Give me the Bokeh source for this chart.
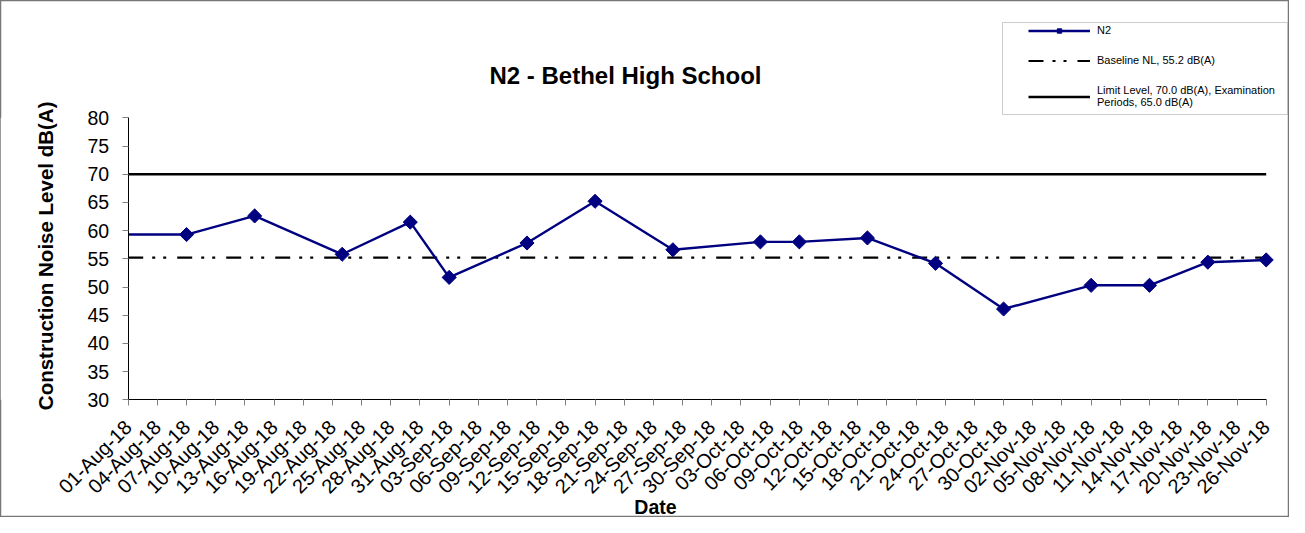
import math
import pandas as pd
from bokeh.plotting import figure
from bokeh.models import (Range1d, FixedTicker, DatetimeTickFormatter, Legend,
                          LegendItem, Label, BoxAnnotation)
from bokeh.embed import file_html
from bokeh.resources import INLINE

# ---------------- data ----------------
dates = ["2018-07-31", "2018-08-07", "2018-08-14", "2018-08-23", "2018-08-30",
         "2018-09-03", "2018-09-11", "2018-09-18", "2018-09-26", "2018-10-05",
         "2018-10-09", "2018-10-16", "2018-10-23", "2018-10-30", "2018-11-08",
         "2018-11-14", "2018-11-20", "2018-11-26"]
n2_values = [59.3, 59.3, 62.6, 55.8, 61.5, 51.7, 57.8, 65.2, 56.6, 58.0,
             58.0, 58.7, 54.2, 46.1, 50.3, 50.3, 54.4, 54.8]
baseline_level = 55.2
limit_level = 70.0
tick_labels = ["01-Aug-18", "04-Aug-18", "07-Aug-18", "10-Aug-18", "13-Aug-18",
               "16-Aug-18", "19-Aug-18", "22-Aug-18", "25-Aug-18", "28-Aug-18",
               "31-Aug-18", "03-Sep-18", "06-Sep-18", "09-Sep-18", "12-Sep-18",
               "15-Sep-18", "18-Sep-18", "21-Sep-18", "24-Sep-18", "27-Sep-18",
               "30-Sep-18", "03-Oct-18", "06-Oct-18", "09-Oct-18", "12-Oct-18",
               "15-Oct-18", "18-Oct-18", "21-Oct-18", "24-Oct-18", "27-Oct-18",
               "30-Oct-18", "02-Nov-18", "05-Nov-18", "08-Nov-18", "11-Nov-18",
               "14-Nov-18", "17-Nov-18", "20-Nov-18", "23-Nov-18", "26-Nov-18"]
y_ticks = [30, 35, 40, 45, 50, 55, 60, 65, 70, 75, 80]
title_text = "N2 - Bethel High School"
x_title = "Date"
y_title = "Construction Noise Level  dB(A)"
legend_labels = ["N2", "Baseline NL, 55.2 dB(A)",
                 "Limit Level, 70.0 dB(A), Examination\nPeriods, 65.0 dB(A)"]

# ---------------- layout (pixels) ----------------
W, H = 1289, 517
X_LEFT_PX, X_RIGHT_PX = 127.7, 1265.7     # pixel of first / last tick
Y_LOW_PX, Y_HIGH_PX = 399.3, 117.3        # pixel of lowest / highest y tick

x_dates = pd.to_datetime(dates)
tick_dt = pd.to_datetime(tick_labels, format="%d-%b-%y")
tick_ms = [t.value // 10**6 for t in tick_dt]
x0_ms, x1_ms = tick_ms[0], tick_ms[-1]
ms_per_px = (x1_ms - x0_ms) / (X_RIGHT_PX - X_LEFT_PX)
v_per_px = (y_ticks[-1] - y_ticks[0]) / (Y_LOW_PX - Y_HIGH_PX)


def px_x(px):
    return x0_ms + (px - X_LEFT_PX) * ms_per_px


def px_y(py):
    return y_ticks[0] + (Y_LOW_PX - py) * v_per_px


span_x = [tick_dt[0], tick_dt[-1]]
FONT = "Liberation Sans"

p = figure(width=W, height=H, x_axis_type="datetime",
           x_range=Range1d(px_x(0), px_x(W)),
           y_range=Range1d(px_y(H), px_y(0)),
           output_backend="svg", toolbar_location=None,
           min_border=0, min_border_left=0, min_border_right=0,
           min_border_top=0, min_border_bottom=0)
p.xgrid.visible = False
p.ygrid.visible = False
p.outline_line_color = "#777777"
p.outline_line_width = 1.5
p.background_fill_color = "white"
p.border_fill_color = "white"

# axes
xa = p.xaxis[0]
xa.fixed_location = y_ticks[0]
xa.bounds = (x0_ms, x1_ms)
xa.ticker = FixedTicker(ticks=tick_ms, minor_ticks=[])
fmt = "%d-%b-%y"
xa.formatter = DatetimeTickFormatter(milliseconds=fmt, seconds=fmt, minsec=fmt,
                                     minutes=fmt, hourmin=fmt, hours=fmt,
                                     days=fmt, months=fmt, years=fmt)
xa.major_label_orientation = math.pi / 4
xa.major_label_text_font = FONT
xa.major_label_text_font_size = "20px"
xa.major_label_text_color = "black"
xa.major_label_standoff = 18
xa.major_tick_in = 0
xa.major_tick_out = 6
xa.major_tick_line_color = "#808080"
xa.minor_tick_line_color = None
xa.axis_line_color = "black"

ya = p.yaxis[0]
ya.fixed_location = x0_ms
ya.bounds = (y_ticks[0], y_ticks[-1])
ya.ticker = FixedTicker(ticks=y_ticks, minor_ticks=[])
ya.major_label_text_font = FONT
ya.major_label_text_font_size = "19.5px"
ya.major_label_text_color = "black"
ya.major_label_standoff = 13
ya.major_tick_in = 0
ya.major_tick_out = 6
ya.major_tick_line_color = "#808080"
ya.minor_tick_line_color = None
ya.axis_line_color = "black"

# texts
p.add_layout(Label(x=px_x(625), y=px_y(75), text=title_text,
                   text_font=FONT, text_font_size="24px",
                   text_font_style="bold", text_color="black",
                   text_align="center", text_baseline="middle"))
p.add_layout(Label(x=px_x(655), y=px_y(506), text=x_title,
                   text_font=FONT, text_font_size="19.5px",
                   text_font_style="bold", text_color="black",
                   text_align="center", text_baseline="middle"))
p.add_layout(Label(x=px_x(44.5), y=px_y(252.5), text=y_title,
                   angle=math.pi / 2,
                   text_font=FONT, text_font_size="20.5px",
                   text_font_style="bold", text_color="black",
                   text_align="center", text_baseline="middle"))

# reference lines
r_limit = p.line(span_x, [limit_level, limit_level], line_color="black",
                 line_width=2.5)
r_base = p.line(span_x, [baseline_level, baseline_level], line_color="black",
                line_width=2.2, line_dash="15 9 3 8 3 11")

# series (first reading lies before the axis start; it is masked off)
r_n2_line = p.line(x_dates, n2_values, line_color="#000080", line_width=2.4)
r_n2_mark = p.scatter(x_dates, n2_values, marker="square", angle=math.pi / 4,
                      size=10, fill_color="#000080", line_color="#000080")
mask = BoxAnnotation(right=x0_ms, bottom=y_ticks[0], top=y_ticks[-1],
                     fill_color="white", fill_alpha=1.0, line_alpha=0,
                     level="glyph")
p.add_layout(mask)

# legend frame
p.add_layout(BoxAnnotation(left=px_x(1002), right=px_x(1287),
                           top=px_y(22), bottom=px_y(114),
                           fill_color="white", fill_alpha=1.0,
                           line_color="#555555", line_width=1))

LEG_PAD = 26
legend = Legend(items=[
    LegendItem(label=legend_labels[0], renderers=[r_n2_line, r_n2_mark]),
    LegendItem(label=legend_labels[1], renderers=[r_base]),
    LegendItem(label=legend_labels[2], renderers=[r_limit]),
], location=(1002, 383))
legend.border_line_alpha = 0
legend.background_fill_alpha = 0
legend.padding = LEG_PAD
legend.spacing = 18
legend.margin = 0
legend.glyph_width = 62
legend.glyph_height = 11
legend.label_height = 11
legend.label_standoff = 7
legend.label_width = 160
legend.label_text_font = FONT
legend.label_text_font_size = "11px"
legend.label_text_color = "black"
p.add_layout(legend)

open("out.html", "w").write(file_html(p, INLINE))
